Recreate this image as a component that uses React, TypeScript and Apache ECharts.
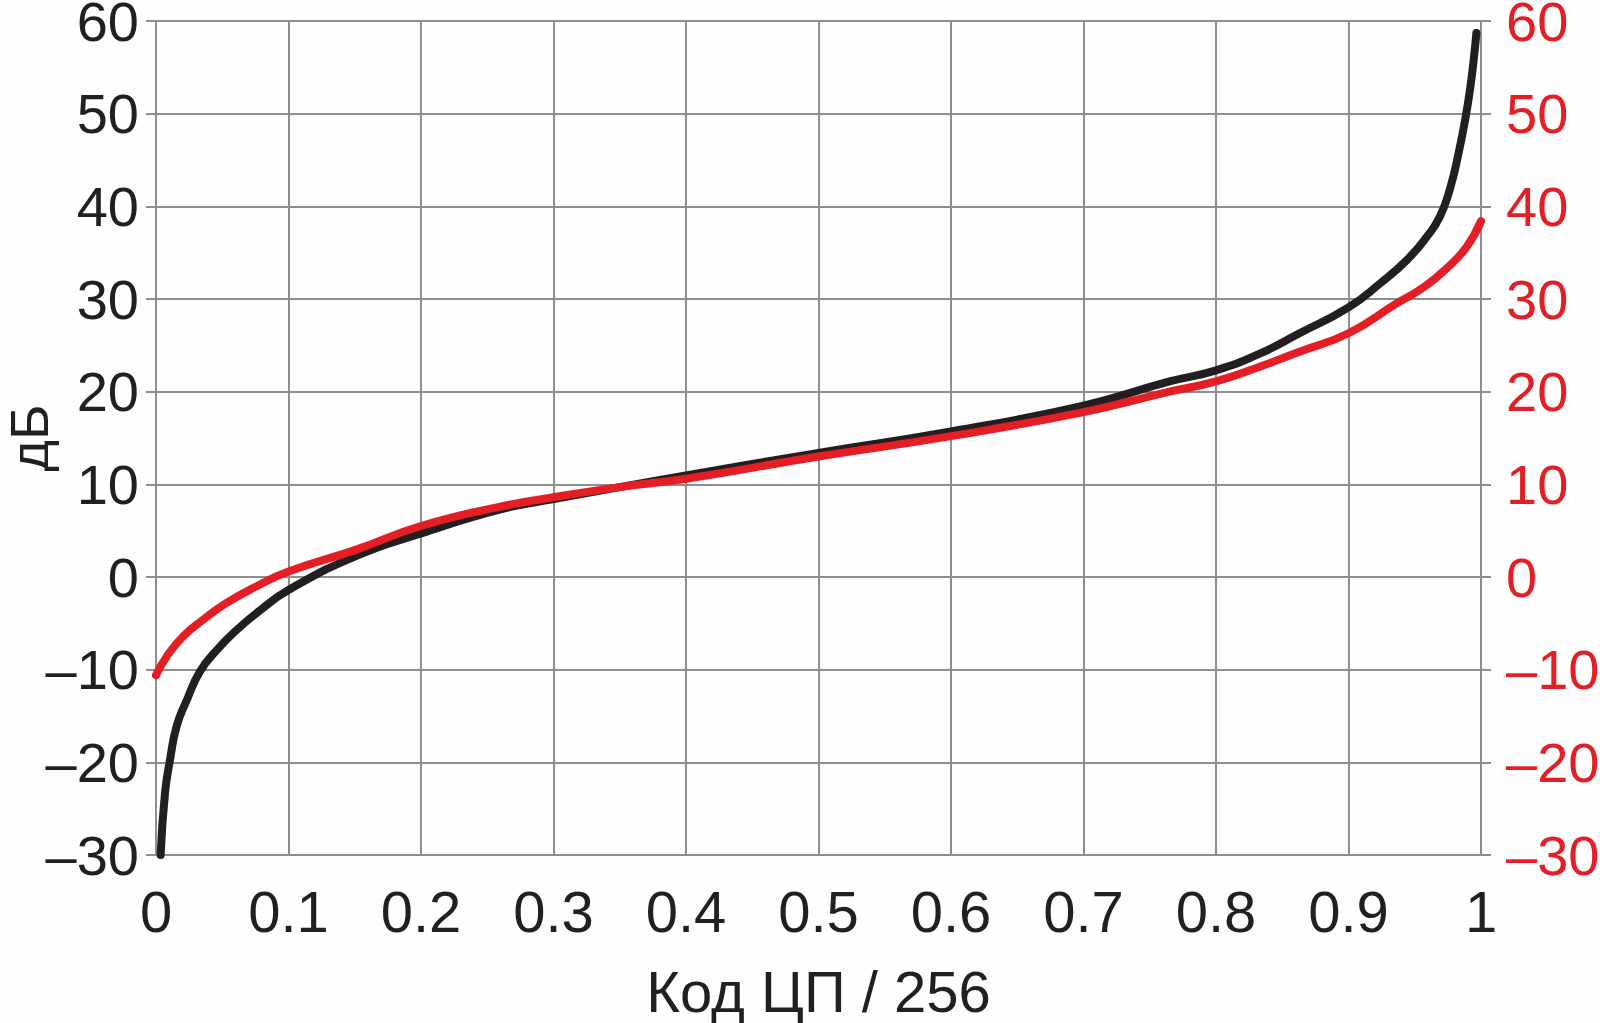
import React, { useEffect, useRef } from "react";
import * as echarts from "echarts";

const xTicks = { min: 0, max: 1, interval: 0.1 };
const yTicks = { min: -30, max: 60, interval: 10 };

const blackCurve: [number, number][] = [
  [0.0035, -30], [0.0068, -23.3], [0.0106, -19.7], [0.0156, -16.1], [0.0232, -13.3],
  [0.0332, -10.2], [0.0458, -7.9], [0.061, -5.7], [0.0785, -3.6], [0.1, -1.4],
  [0.15, 2.2], [0.2, 4.7], [0.26, 7.3], [0.3, 8.4], [0.35, 9.7], [0.4, 10.95],
  [0.5, 13.4], [0.6, 15.7], [0.7, 18.5], [0.765, 21.1], [0.8, 22.3], [0.833, 24.1],
  [0.863, 26.3], [0.9, 29.1], [0.924, 31.7], [0.944, 34.2], [0.959, 36.7],
  [0.969, 38.9], [0.977, 42.1], [0.983, 45.7], [0.988, 49.3], [0.992, 52.9],
  [0.995, 56.5], [0.9965, 58.7],
];

const redCurve: [number, number][] = [
  [0, -10.6], [0.008, -8.6], [0.0206, -6.4], [0.0357, -4.6], [0.0533, -2.8],
  [0.076, -1.0], [0.1, 0.6], [0.15, 2.9], [0.2, 5.5], [0.26, 7.6], [0.3, 8.6],
  [0.35, 9.7], [0.4, 10.6], [0.5, 13.0], [0.6, 15.2], [0.7, 17.8], [0.765, 20.0],
  [0.8, 21.1], [0.833, 22.7], [0.863, 24.3], [0.9, 26.3], [0.936, 29.5],
  [0.957, 31.3], [0.974, 33.3], [0.989, 35.6], [1.0, 38.4],
];

const xName = "Код ЦП / 256";
const yName = "дБ";

const FONT = "'Liberation Sans', Arial, sans-serif";
const DARK = "#231f20";
const RED = "#e31e24";
const GRID = "#8f8f8f";

const fmtY = (v: number) => String(v).replace("-", "\u2013");

export default function App() {
  const ref = useRef<HTMLDivElement>(null);
  useEffect(() => {
    if (!ref.current) return;
    const chart = echarts.init(ref.current, null, { renderer: "svg" });
    const yCommon = {
      type: "value",
      min: yTicks.min,
      max: yTicks.max,
      interval: yTicks.interval,
      axisLine: { show: false },
      axisTick: { show: true, length: 10, lineStyle: { color: GRID, width: 2 } },
      splitLine: { show: true, lineStyle: { color: GRID, width: 2 } },
    };
    chart.setOption({
      animation: false,
      backgroundColor: "#fdfefd",
      grid: {
        left: 156,
        right: 119,
        top: 21,
        bottom: 168,
        containLabel: false,
        outerBoundsMode: "none",
      },
      xAxis: {
        type: "value",
        min: xTicks.min,
        max: xTicks.max,
        interval: xTicks.interval,
        axisLine: { show: false },
        axisTick: { show: false },
        splitLine: { show: true, lineStyle: { color: GRID, width: 2 } },
        axisLabel: {
          color: DARK,
          fontSize: 58,
          fontFamily: FONT,
          margin: 27,
          showMinLabel: true,
          showMaxLabel: true,
        },
        name: xName,
        nameLocation: "middle",
        nameGap: 107,
        nameMoveOverlap: false,
        nameTextStyle: { color: DARK, fontSize: 58, fontFamily: FONT },
      },
      yAxis: [
        {
          ...yCommon,
          position: "left",
          axisLabel: {
            color: DARK,
            fontSize: 56,
            lineHeight: 40,
            fontFamily: FONT,
            margin: 17,
            formatter: fmtY,
          },
          name: yName,
          nameLocation: "middle",
          nameGap: 100,
          nameMoveOverlap: false,
          nameTextStyle: { color: DARK, fontSize: 54, fontFamily: FONT },
        },
        {
          ...yCommon,
          position: "right",
          splitLine: { show: false },
          axisLabel: {
            color: RED,
            fontSize: 56,
            lineHeight: 40,
            fontFamily: FONT,
            margin: 25,
            formatter: fmtY,
          },
        },
      ],
      series: [
        {
          type: "line",
          data: blackCurve,
          yAxisIndex: 0,
          showSymbol: false,
          smooth: 0.5,
          lineStyle: { color: DARK, width: 8, cap: "round", join: "round" },
          itemStyle: { color: DARK },
          z: 3,
        },
        {
          type: "line",
          data: redCurve,
          yAxisIndex: 1,
          showSymbol: false,
          smooth: 0.5,
          lineStyle: { color: RED, width: 8, cap: "round", join: "round" },
          itemStyle: { color: RED },
          z: 4,
        },
      ],
    });
    return () => chart.dispose();
  }, []);
  return (
    <div
      ref={ref}
      style={{ position: "fixed", left: 0, top: 0, width: 1600, height: 1023 }}
    />
  );
}
